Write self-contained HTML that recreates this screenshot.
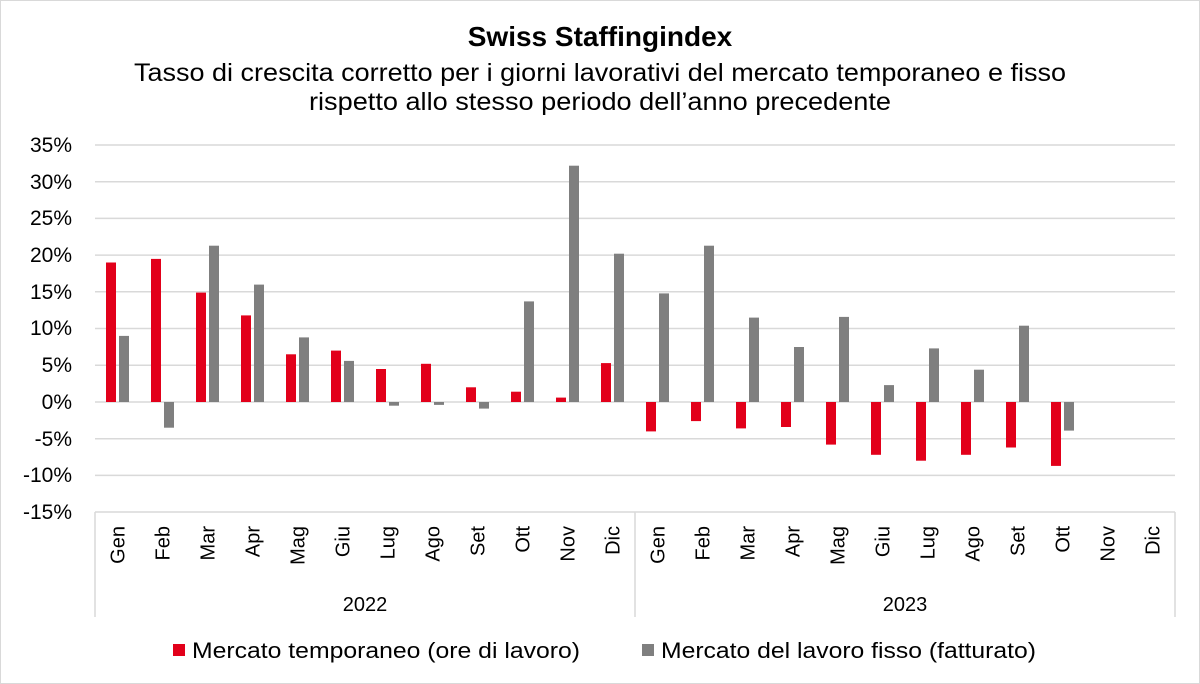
<!DOCTYPE html>
<html><head><meta charset="utf-8"><style>
html,body{margin:0;padding:0;background:#fff;}
svg{display:block;font-family:"Liberation Sans",Arial,sans-serif;}
</style></head><body>
<svg width="1200" height="684" viewBox="0 0 1200 684" xmlns="http://www.w3.org/2000/svg">
<rect x="0.5" y="0.5" width="1199" height="683" fill="#fff" stroke="#d9d9d9"/>
<text x="600" y="46" text-anchor="middle" font-size="28" font-weight="bold">Swiss Staffingindex</text>
<text x="600" y="81" text-anchor="middle" font-size="25" textLength="932" lengthAdjust="spacingAndGlyphs">Tasso di crescita corretto per i giorni lavorativi del mercato temporaneo e fisso</text>
<text x="600" y="110" text-anchor="middle" font-size="25" textLength="582" lengthAdjust="spacingAndGlyphs">rispetto allo stesso periodo dell’anno precedente</text>
<g stroke="#d9d9d9" stroke-width="1.5">
<line x1="95" x2="1175" y1="145" y2="145"/><line x1="95" x2="1175" y1="181.7" y2="181.7"/><line x1="95" x2="1175" y1="218.4" y2="218.4"/><line x1="95" x2="1175" y1="255.1" y2="255.1"/><line x1="95" x2="1175" y1="291.8" y2="291.8"/><line x1="95" x2="1175" y1="328.5" y2="328.5"/><line x1="95" x2="1175" y1="365.2" y2="365.2"/><line x1="95" x2="1175" y1="402" y2="402"/><line x1="95" x2="1175" y1="438.7" y2="438.7"/><line x1="95" x2="1175" y1="475.4" y2="475.4"/><line x1="95" x2="1175" y1="512" y2="512"/>
<line x1="95" x2="95" y1="512" y2="617"/><line x1="635" x2="635" y1="512" y2="617"/><line x1="1175" x2="1175" y1="512" y2="617"/>
</g>
<g font-size="21" text-anchor="end">
<text x="72" y="152">35%</text><text x="72" y="189">30%</text><text x="72" y="225">25%</text><text x="72" y="262">20%</text><text x="72" y="299">15%</text><text x="72" y="335">10%</text><text x="72" y="372">5%</text><text x="72" y="409">0%</text><text x="72" y="446">-5%</text><text x="72" y="482">-10%</text><text x="72" y="519">-15%</text>
</g>
<g fill="#e2001a">
<rect x="106" y="262.5" width="10" height="139.5"/><rect x="151" y="258.9" width="10" height="143.1"/><rect x="196" y="292.6" width="10" height="109.4"/><rect x="241" y="315.4" width="10" height="86.6"/><rect x="286" y="354.3" width="10" height="47.7"/><rect x="331" y="350.6" width="10" height="51.4"/><rect x="376" y="369" width="10" height="33"/><rect x="421" y="363.8" width="10" height="38.2"/><rect x="466" y="387.3" width="10" height="14.7"/><rect x="511" y="391.7" width="10" height="10.3"/><rect x="556" y="397.6" width="10" height="4.4"/><rect x="601" y="363.1" width="10" height="38.9"/>
<rect x="646" y="402" width="10" height="29.4"/><rect x="691" y="402" width="10" height="19.1"/><rect x="736" y="402" width="10" height="26.4"/><rect x="781" y="402" width="10" height="25"/><rect x="826" y="402" width="10" height="42.6"/><rect x="871" y="402" width="10" height="52.8"/><rect x="916" y="402" width="10" height="58.7"/><rect x="961" y="402" width="10" height="52.8"/><rect x="1006" y="402" width="10" height="45.5"/><rect x="1051" y="402" width="10" height="63.9"/>
</g>
<g fill="#7f7f7f">
<rect x="119" y="335.9" width="10" height="66.1"/><rect x="164" y="402" width="10" height="25.7"/><rect x="209" y="245.7" width="10" height="156.3"/><rect x="254" y="284.6" width="10" height="117.4"/><rect x="299" y="337.4" width="10" height="64.6"/><rect x="344" y="360.9" width="10" height="41.1"/><rect x="389" y="402" width="10" height="3.7"/><rect x="434" y="402" width="10" height="2.9"/><rect x="479" y="402" width="10" height="6.6"/><rect x="524" y="301.4" width="10" height="100.6"/><rect x="569" y="165.7" width="10" height="236.3"/><rect x="614" y="253.7" width="10" height="148.3"/>
<rect x="659" y="293.4" width="10" height="108.6"/><rect x="704" y="245.7" width="10" height="156.3"/><rect x="749" y="317.6" width="10" height="84.4"/><rect x="794" y="347" width="10" height="55"/><rect x="839" y="316.9" width="10" height="85.1"/><rect x="884" y="385.1" width="10" height="16.9"/><rect x="929" y="348.4" width="10" height="53.6"/><rect x="974" y="369.7" width="10" height="32.3"/><rect x="1019" y="325.7" width="10" height="76.3"/><rect x="1064" y="402" width="10" height="28.6"/>
</g>
<g font-size="20" text-anchor="end">
<text transform="translate(124.5,526) rotate(-90)">Gen</text><text transform="translate(169.5,526) rotate(-90)">Feb</text><text transform="translate(214.5,526) rotate(-90)">Mar</text><text transform="translate(259.5,526) rotate(-90)">Apr</text><text transform="translate(304.5,526) rotate(-90)">Mag</text><text transform="translate(349.5,526) rotate(-90)">Giu</text><text transform="translate(394.5,526) rotate(-90)">Lug</text><text transform="translate(439.5,526) rotate(-90)">Ago</text><text transform="translate(484.5,526) rotate(-90)">Set</text><text transform="translate(529.5,526) rotate(-90)">Ott</text><text transform="translate(574.5,526) rotate(-90)">Nov</text><text transform="translate(619.5,526) rotate(-90)">Dic</text>
<text transform="translate(664.5,526) rotate(-90)">Gen</text><text transform="translate(709.5,526) rotate(-90)">Feb</text><text transform="translate(754.5,526) rotate(-90)">Mar</text><text transform="translate(799.5,526) rotate(-90)">Apr</text><text transform="translate(844.5,526) rotate(-90)">Mag</text><text transform="translate(889.5,526) rotate(-90)">Giu</text><text transform="translate(934.5,526) rotate(-90)">Lug</text><text transform="translate(979.5,526) rotate(-90)">Ago</text><text transform="translate(1024.5,526) rotate(-90)">Set</text><text transform="translate(1069.5,526) rotate(-90)">Ott</text><text transform="translate(1114.5,526) rotate(-90)">Nov</text><text transform="translate(1159.5,526) rotate(-90)">Dic</text>
</g>
<text x="365" y="611" font-size="20" text-anchor="middle">2022</text>
<text x="905" y="611" font-size="20" text-anchor="middle">2023</text>
<rect x="173" y="644" width="12" height="12" fill="#e2001a"/>
<text x="192" y="658" font-size="22" textLength="388" lengthAdjust="spacingAndGlyphs">Mercato temporaneo (ore di lavoro)</text>
<rect x="642" y="644" width="12" height="12" fill="#7f7f7f"/>
<text x="661" y="658" font-size="22" textLength="375" lengthAdjust="spacingAndGlyphs">Mercato del lavoro fisso (fatturato)</text>
</svg>
</body></html>
